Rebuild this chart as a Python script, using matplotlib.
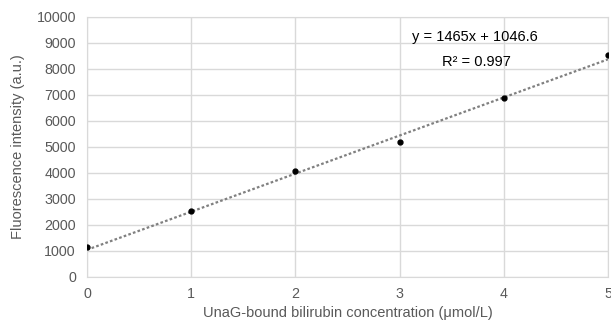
import matplotlib
matplotlib.use("Agg")
import matplotlib.pyplot as plt
import numpy as np

plt.rcParams['font.family'] = ['Liberation Sans', 'DejaVu Sans']

# measured points
conc = [0, 1, 2, 3, 4, 5]
intensity = [1140, 2540, 4080, 5190, 6885, 8545]

# trend line as printed on the chart
slope = 1465
intercept = 1046.6
r2 = 0.997

fig = plt.figure(figsize=(6.11, 3.22), dpi=100)
ax = fig.add_axes([87 / 611, 1 - 277 / 322, (608 - 87) / 611, (277 - 17) / 322])

xs = np.array([conc[0], conc[-1]])
ax.plot(xs, slope * xs + intercept, linestyle=(0, (1.2, 1.0)), color='#808080', lw=1.6, zorder=2)
ax.plot(conc, intensity, 'o', color='black', ms=3.5, zorder=3)

ax.set_xlim(0, 5)
ax.set_ylim(0, 10000)
ax.set_xticks(range(0, 6))
ax.set_yticks(range(0, 10001, 1000))
ax.grid(True, color='#d9d9d9', lw=1.0)
ax.set_axisbelow(True)
for s in ax.spines.values():
    s.set_color('#d9d9d9')
ax.tick_params(length=0, labelsize=10.3, colors='#595959')
ax.tick_params(axis='y', pad=8)
ax.tick_params(axis='x', pad=7)

ax.set_xlabel('UnaG-bound bilirubin concentration (μmol/L)', fontsize=10.5, color='#595959', labelpad=4)
ax.set_ylabel('Fluorescence intensity (a.u.)', fontsize=10.5, color='#595959', labelpad=8)

ax.text(3.72, 9220, 'y = %dx + %.1f' % (slope, intercept), ha='center', va='center', fontsize=10.5, color='black')
ax.text(3.74, 8280, 'R² = %.3f' % r2, ha='center', va='center', fontsize=10.5, color='black')

fig.savefig('out.png', dpi=100)
